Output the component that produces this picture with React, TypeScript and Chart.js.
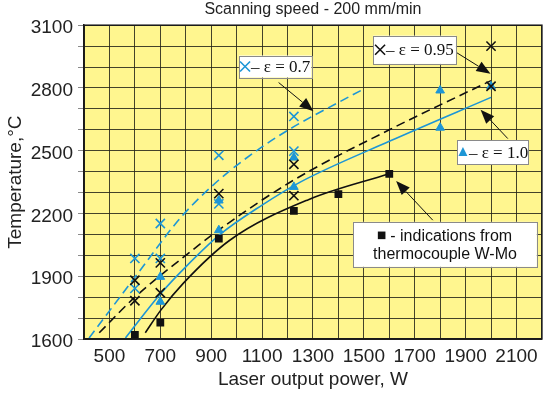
import React, { useEffect, useRef } from 'react';
import { Chart, registerables } from 'chart.js';

Chart.register(...registerables);

// ---------- axes ----------
const X_MIN = 400;
const X_MAX = 2200;
const Y_MIN = 1600;
const Y_MAX = 3100;
const X_TICK_LABELS = [500, 700, 900, 1100, 1300, 1500, 1700, 1900, 2100];
const Y_TICK_LABELS = [1600, 1900, 2200, 2500, 2800, 3100];

// ---------- measured points ----------
// ε = 0.7 (blue crosses)
const E07_W = [600, 600, 700, 700, 930, 930, 1225, 1225];
const E07_T = [1985, 1842, 2152, 1985, 2478, 2246, 2664, 2498];
// ε = 0.95 (black crosses)
const E095_W = [600, 600, 700, 700, 930, 1225, 1225, 2000, 2000];
const E095_T = [1881, 1783, 1964, 1821, 2295, 2435, 2285, 3000, 2808];
// ε = 1.0 (blue triangles)
const E10_W = [700, 700, 930, 930, 1225, 1225, 1800, 1800, 2000];
const E10_T = [1897, 1778, 2262, 2120, 2467, 2327, 2788, 2610, 2808];
// thermocouple W-Mo (black squares)
const TC_W = [600, 700, 930, 1225, 1400, 1600];
const TC_T = [1620, 1678, 2080, 2212, 2293, 2389];

// ---------- fitted curves ----------
const FIT07_W = [420, 600, 780, 930, 1090, 1225, 1360, 1500];
const FIT07_T = [1605, 1895, 2180, 2360, 2510, 2615, 2705, 2795];
const FIT095_W = [460, 600, 790, 940, 1225, 1600, 2000];
const FIT095_T = [1630, 1800, 1990, 2130, 2360, 2600, 2835];
const FIT10_W = [563, 700, 800, 935, 1100, 1250, 1600, 2000];
const FIT10_T = [1605, 1815, 1945, 2100, 2240, 2350, 2545, 2755];
const FITTC_W = [641, 702, 790, 973, 1282, 1600];
const FITTC_T = [1630, 1738, 1866, 2072, 2266, 2390];

// ---------- texts ----------
const TITLE = 'Scanning speed - 200 mm/min';
const X_TITLE = 'Laser output power, W';
const Y_TITLE = 'Temperature,°C';

type Marker = 'cross' | 'tri' | 'sq';
interface Note {
  box: [number, number, number, number]; // wLeft, wRight, tTop, tBottom (data units)
  tail: [number, number];
  tip: [number, number];
  marker: Marker;
  markerColor: string;
  lines: string[];
  serif: boolean;
}

const BLUE = '#1d96d6';
const BLACK = '#111111';
const YELLOW = '#fff68f';

const NOTES: Note[] = [
  { box: [1009, 1294, 2955, 2850], tail: [1165, 2826], tip: [1302, 2689], marker: 'cross', markerColor: BLUE, lines: ['– ε = 0.7'], serif: true },
  { box: [1536, 1862, 3050, 2915], tail: [1862, 2971], tip: [1998, 2868], marker: 'cross', markerColor: BLACK, lines: ['– ε = 0.95'], serif: true },
  { box: [1868, 2148, 2549, 2435], tail: [2066, 2558], tip: [1959, 2696], marker: 'tri', markerColor: BLUE, lines: ['– ε = 1.0'], serif: true },
  { box: [1458, 2180, 2160, 1945], tail: [1771, 2168], tip: [1627, 2355], marker: 'sq', markerColor: BLACK, lines: [' - indications from', 'thermocouple W-Mo'], serif: false },
];

const SANS = '"Liberation Sans", Arial, Helvetica, sans-serif';
const SERIF = '"Liberation Serif", "Times New Roman", serif';

const zip = (xs: number[], ys: number[]) => xs.map((x, i) => ({ x, y: ys[i] }));

function drawMarker(ctx: CanvasRenderingContext2D, m: Marker, cx: number, cy: number, color: string) {
  ctx.save();
  ctx.strokeStyle = color;
  ctx.fillStyle = color;
  if (m === 'cross') {
    const s = 5;
    ctx.lineWidth = 1.6;
    ctx.beginPath();
    ctx.moveTo(cx - s, cy - s);
    ctx.lineTo(cx + s, cy + s);
    ctx.moveTo(cx + s, cy - s);
    ctx.lineTo(cx - s, cy + s);
    ctx.stroke();
  } else if (m === 'tri') {
    ctx.beginPath();
    ctx.moveTo(cx, cy - 5.5);
    ctx.lineTo(cx + 4.5, cy + 3.5);
    ctx.lineTo(cx - 4.5, cy + 3.5);
    ctx.closePath();
    ctx.fill();
  } else {
    ctx.fillRect(cx - 3.8, cy - 3.8, 7.6, 7.6);
  }
  ctx.restore();
}

function drawArrow(ctx: CanvasRenderingContext2D, x0: number, y0: number, x1: number, y1: number) {
  const ang = Math.atan2(y1 - y0, x1 - x0);
  const L = 14;
  const H = 5.5;
  const bx = x1 - L * Math.cos(ang);
  const by = y1 - L * Math.sin(ang);
  ctx.save();
  ctx.strokeStyle = BLACK;
  ctx.fillStyle = BLACK;
  ctx.lineWidth = 1;
  ctx.beginPath();
  ctx.moveTo(x0, y0);
  ctx.lineTo(bx, by);
  ctx.stroke();
  ctx.beginPath();
  ctx.moveTo(x1, y1);
  ctx.lineTo(bx + H * Math.sin(ang), by - H * Math.cos(ang));
  ctx.lineTo(bx - H * Math.sin(ang), by + H * Math.cos(ang));
  ctx.closePath();
  ctx.fill();
  ctx.restore();
}

const bgPlugin = {
  id: 'plotBg',
  beforeDraw(chart: any) {
    const { ctx, chartArea } = chart;
    ctx.save();
    ctx.fillStyle = '#ffffff';
    ctx.fillRect(0, 0, chart.width, chart.height);
    ctx.fillStyle = YELLOW;
    ctx.fillRect(chartArea.left, chartArea.top, chartArea.right - chartArea.left, chartArea.bottom - chartArea.top);
    ctx.restore();
  },
};

const notesPlugin = {
  id: 'notes',
  afterDraw(chart: any) {
    const { ctx, chartArea } = chart;
    const xs = chart.scales.x;
    const ys = chart.scales.y;
    // frame
    ctx.save();
    ctx.strokeStyle = '#1a1a1a';
    ctx.lineWidth = 1.5;
    ctx.strokeRect(chartArea.left, chartArea.top, chartArea.right - chartArea.left, chartArea.bottom - chartArea.top);
    ctx.restore();

    for (const n of NOTES) {
      const l = xs.getPixelForValue(n.box[0]);
      const r = xs.getPixelForValue(n.box[1]);
      const t = ys.getPixelForValue(n.box[2]);
      const b = ys.getPixelForValue(n.box[3]);
      drawArrow(ctx, xs.getPixelForValue(n.tail[0]), ys.getPixelForValue(n.tail[1]), xs.getPixelForValue(n.tip[0]), ys.getPixelForValue(n.tip[1]));
      ctx.save();
      ctx.fillStyle = '#ffffff';
      ctx.fillRect(l, t, r - l, b - t);
      ctx.strokeStyle = '#8a8a8a';
      ctx.lineWidth = 1;
      ctx.strokeRect(Math.round(l) + 0.5, Math.round(t) + 0.5, Math.round(r - l), Math.round(b - t));
      ctx.fillStyle = BLACK;
      ctx.textBaseline = 'middle';
      ctx.textAlign = 'left';
      const cx = (l + r) / 2;
      if (n.serif) {
        ctx.font = '17px ' + SERIF;
        const tw = ctx.measureText(n.lines[0]).width;
        const mw = 11;
        const x0 = cx - (mw + tw) / 2;
        const cy = (t + b) / 2;
        drawMarker(ctx, n.marker, x0 + 5, cy, n.markerColor);
        ctx.fillText(n.lines[0], x0 + mw, cy + 1);
      } else {
        ctx.font = '16px ' + SANS;
        const h = b - t;
        const y1 = t + h * 0.3;
        const y2 = t + h * 0.7;
        const tw1 = ctx.measureText(n.lines[0]).width;
        const mw = 8;
        const x1 = cx - (mw + tw1) / 2;
        drawMarker(ctx, n.marker, x1 + 3.8, y1, n.markerColor);
        ctx.fillText(n.lines[0], x1 + mw, y1 + 1);
        ctx.textAlign = 'center';
        ctx.fillText(n.lines[1], cx, y2 + 1);
      }
      ctx.restore();
    }
  },
};

export default function App() {
  const ref = useRef<HTMLCanvasElement | null>(null);

  useEffect(() => {
    if (!ref.current) return;
    const lineDs = (label: string, xs: number[], ys: number[], color: string, dash: number[]) => ({
      type: 'line' as const,
      label,
      data: zip(xs, ys),
      borderColor: color,
      backgroundColor: color,
      borderWidth: 1.6,
      borderDash: dash,
      pointRadius: 0,
      showLine: true,
      fill: false,
      cubicInterpolationMode: 'monotone' as const,
      order: 10,
    });

    const chart = new Chart(ref.current, {
      type: 'scatter',
      data: {
        datasets: [
          lineDs('fit ε=0.7', FIT07_W, FIT07_T, BLUE, [9, 5]),
          lineDs('fit ε=0.95', FIT095_W, FIT095_T, BLACK, [9, 5]),
          lineDs('fit ε=1.0', FIT10_W, FIT10_T, BLUE, []),
          lineDs('fit thermocouple', FITTC_W, FITTC_T, BLACK, []),
          {
            label: 'ε = 1.0',
            data: zip(E10_W, E10_T),
            pointStyle: 'triangle',
            pointRadius: 5,
            backgroundColor: BLUE,
            borderColor: BLUE,
            borderWidth: 1,
            order: 3,
          },
          {
            label: 'ε = 0.7',
            data: zip(E07_W, E07_T),
            pointStyle: 'crossRot',
            pointRadius: 6.5,
            borderColor: BLUE,
            backgroundColor: BLUE,
            borderWidth: 1.6,
            order: 2,
          },
          {
            label: 'ε = 0.95',
            data: zip(E095_W, E095_T),
            pointStyle: 'crossRot',
            pointRadius: 6.5,
            borderColor: BLACK,
            backgroundColor: BLACK,
            borderWidth: 1.6,
            order: 1,
          },
          {
            label: 'thermocouple W-Mo',
            data: zip(TC_W, TC_T),
            pointStyle: 'rect',
            pointRadius: 5.5,
            borderColor: BLACK,
            backgroundColor: BLACK,
            borderWidth: 0,
            order: 1,
          },
        ],
      } as any,
      options: {
        responsive: false,
        animation: false,
        devicePixelRatio: 1,
        layout: { padding: { left: 0, right: 5, top: 0, bottom: 0 } },
        plugins: {
          legend: { display: false },
          tooltip: { enabled: false },
          title: {
            display: true,
            text: TITLE,
            fullSize: false,
            color: '#222',
            font: { family: SANS, size: 16, weight: 'normal', lineHeight: 1.2 },
            padding: { top: 0, bottom: 6 },
          },
        },
        scales: {
          x: {
            type: 'linear',
            min: X_MIN,
            max: X_MAX,
            afterFit: (s: any) => {
              s.height = 56;
            },
            afterBuildTicks: (s: any) => {
              const t = [];
              for (let v = X_MIN; v <= X_MAX; v += 100) t.push({ value: v });
              s.ticks = t;
            },
            ticks: {
              autoSkip: false,
              maxRotation: 0,
              padding: 6,
              color: '#222',
              font: { family: SANS, size: 19 },
              callback: (v: any) => (X_TICK_LABELS.includes(Number(v)) ? String(v) : ''),
            },
            grid: { color: 'rgba(35,35,25,0.85)', lineWidth: 1, drawTicks: false },
            border: { display: true, color: '#1a1a1a', width: 1.5 },
            title: { display: true, text: X_TITLE, color: '#222', font: { family: SANS, size: 19 }, padding: { top: 2, bottom: 4 } },
          },
          y: {
            type: 'linear',
            min: Y_MIN,
            max: Y_MAX,
            afterFit: (s: any) => {
              s.width = 84;
            },
            afterBuildTicks: (s: any) => {
              const t = [];
              for (let v = Y_MIN; v <= Y_MAX; v += 100) t.push({ value: v });
              s.ticks = t;
            },
            ticks: {
              autoSkip: false,
              padding: 5,
              labelOffset: 3,
              color: '#222',
              font: { family: SANS, size: 19 },
              callback: (v: any) => (Y_TICK_LABELS.includes(Number(v)) ? String(v) : ''),
            },
            grid: { color: 'rgba(35,35,25,0.85)', lineWidth: 1, drawTicks: true, tickLength: 6, tickColor: '#8a8a8a' },
            border: { display: true, color: '#1a1a1a', width: 1.5 },
            title: { display: true, text: Y_TITLE, color: '#222', font: { family: SANS, size: 19 }, padding: { top: 4, bottom: 4 } },
          },
        },
      } as any,
      plugins: [bgPlugin, notesPlugin],
    });
    return () => chart.destroy();
  }, []);

  return (
    <div style={{ position: 'fixed', left: 0, top: 0, width: 550, height: 395, background: '#fff' }}>
      <canvas ref={ref} width={550} height={395} style={{ display: 'block', width: 550, height: 395 }} />
    </div>
  );
}
